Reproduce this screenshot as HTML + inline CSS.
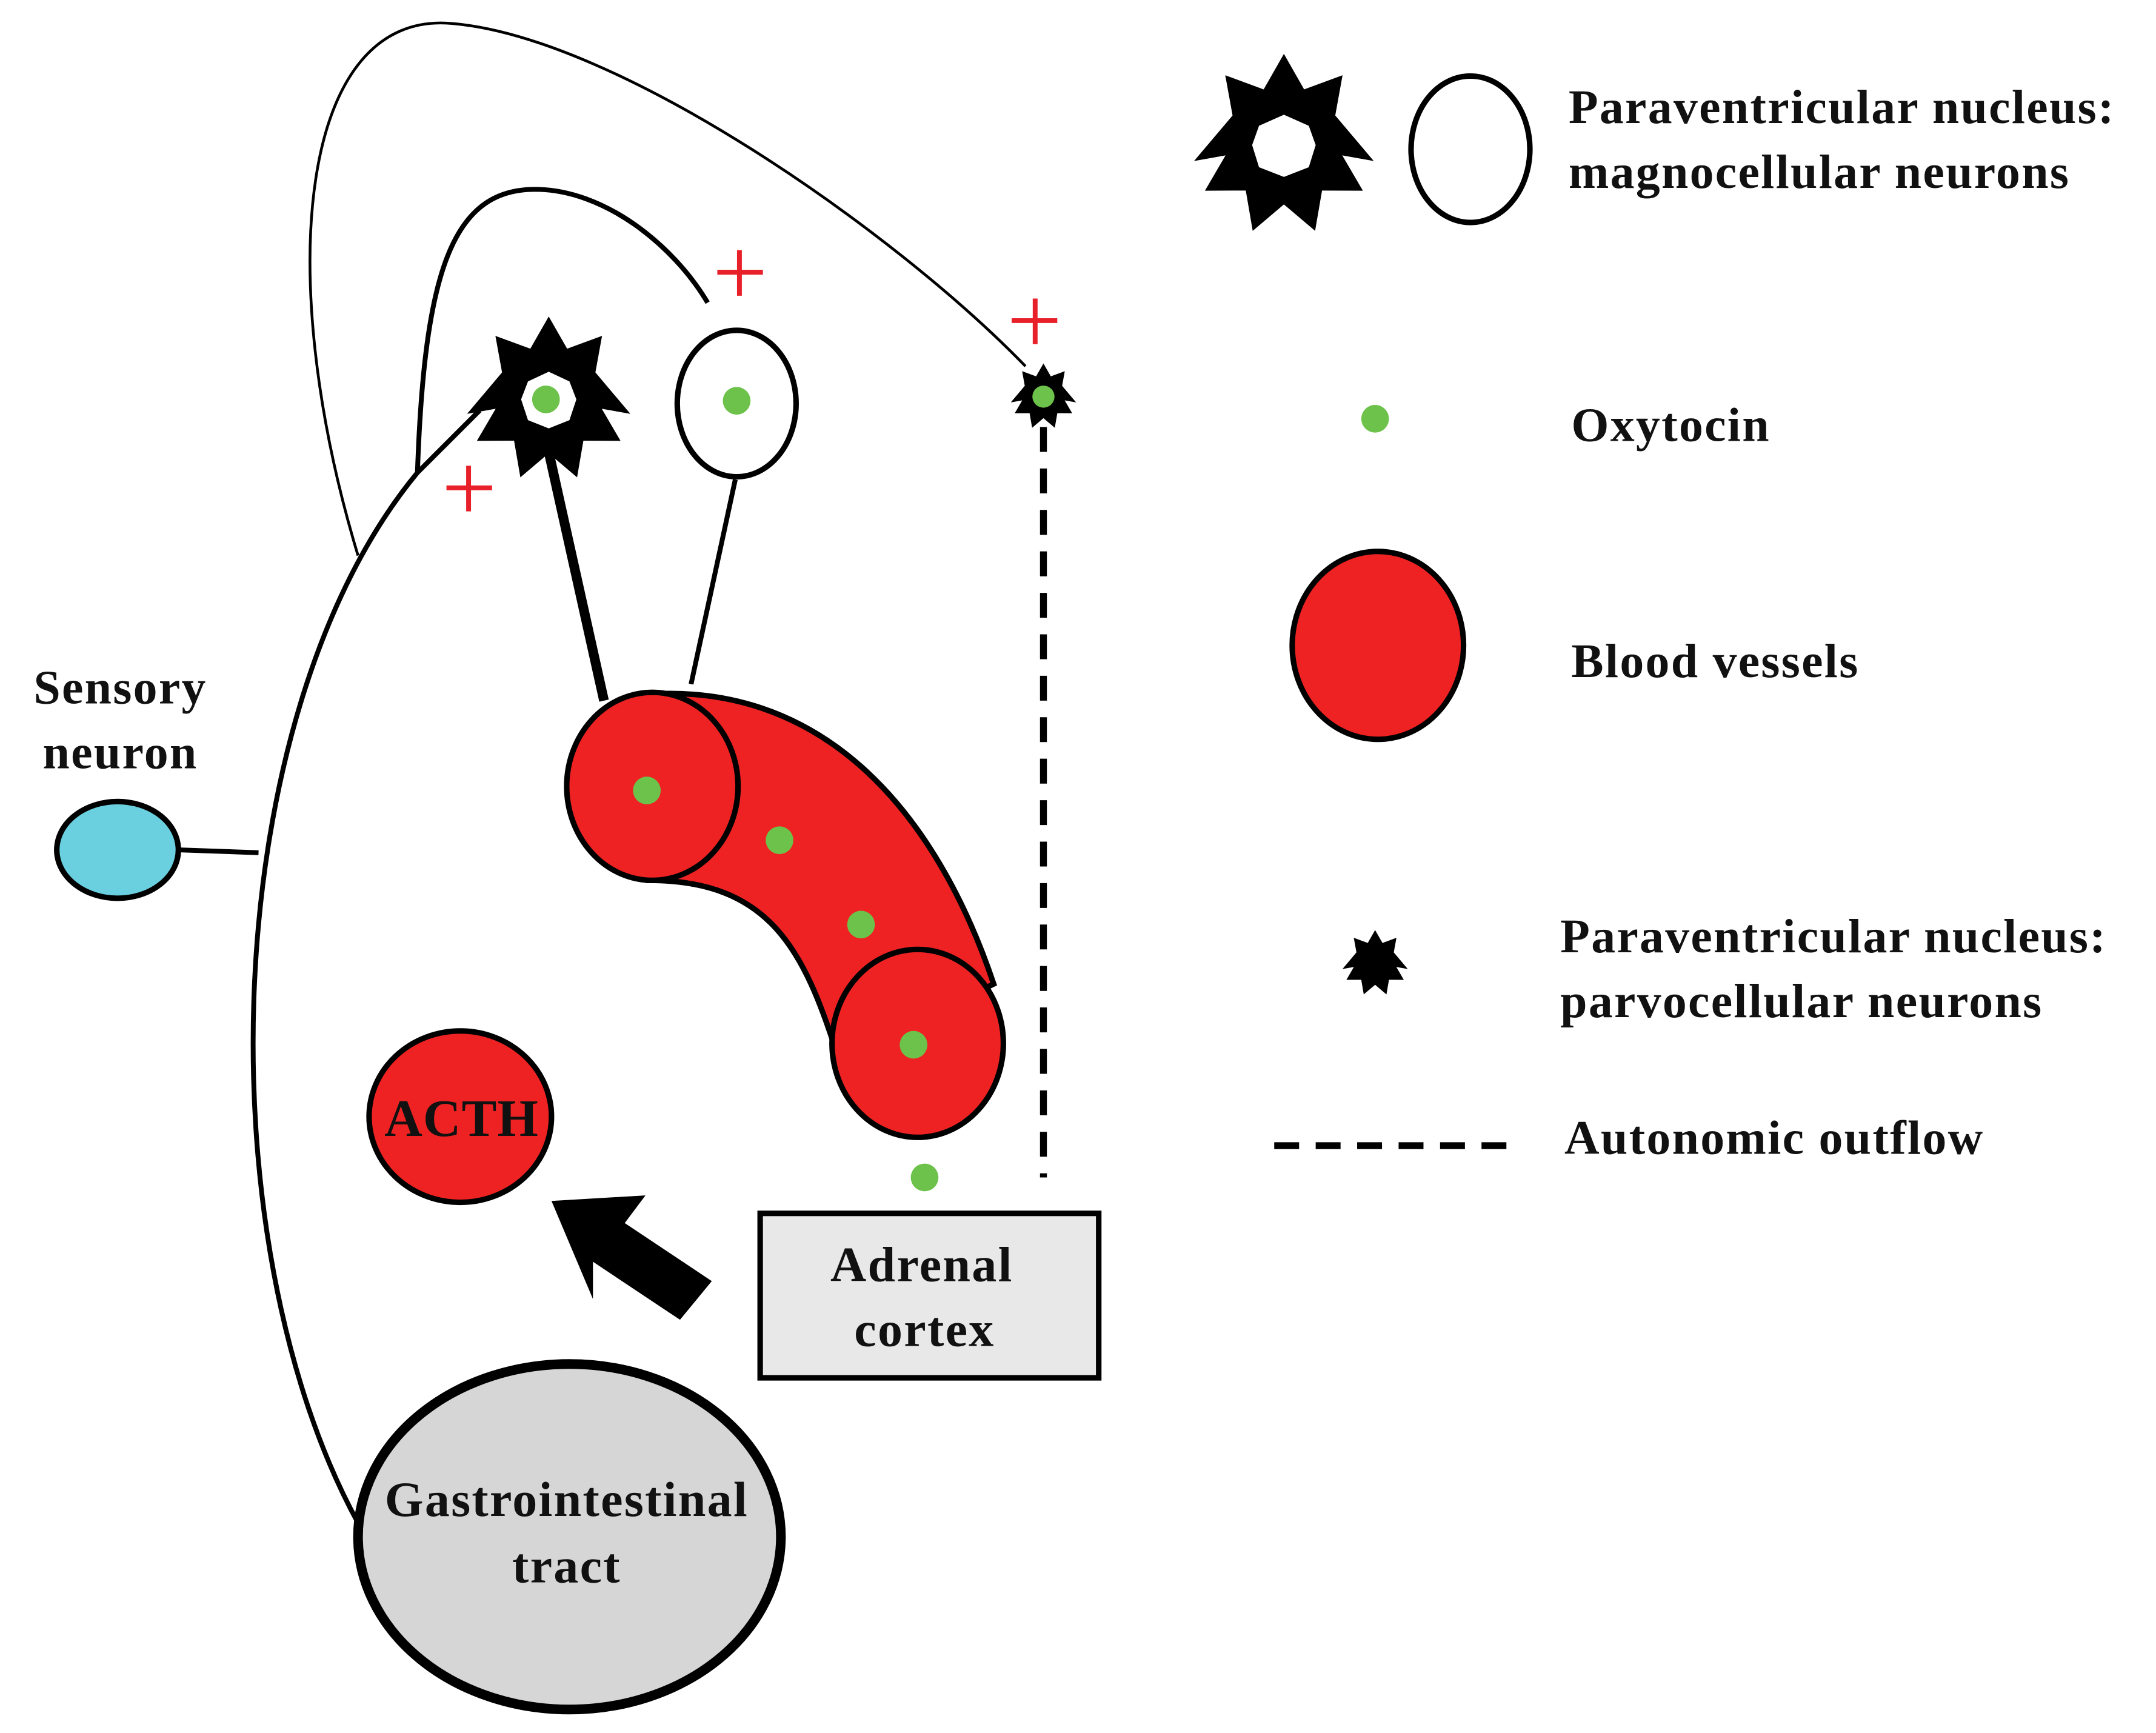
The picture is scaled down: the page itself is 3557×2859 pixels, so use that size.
<!DOCTYPE html>
<html><head><meta charset="utf-8"><style>
html,body{margin:0;padding:0;background:#fff;}
svg{display:block;}
text{font-family:"Liberation Serif",serif;font-weight:bold;fill:#111;letter-spacing:1px;}
</style></head><body>
<svg width="3557" height="2859" viewBox="0 0 1560 1254" xmlns="http://www.w3.org/2000/svg">
<defs>
<polygon id="st" points="0,-1 .222,-.611 .643,-.766 .563,-.325 .985,.174 .640,.113 .866,.5 .418,.498 .342,.94 0,.65 -.342,.94 -.418,.498 -.866,.5 -.640,.113 -.985,.174 -.563,-.325 -.643,-.766 -.222,-.611"/>
</defs>
<g transform="translate(-3,-3)">
<path d="M262,405 C200,200 220,10 330,20 C450,30 650,170 745,268" fill="none" stroke="#000" stroke-width="2"/>
<path d="M305,345 C310,200 330,140 390,140 C440,140 490,180 515,222" fill="none" stroke="#000" stroke-width="3.5"/>
<path d="M262,1105 C150,900 160,520 305,345 L350,300" fill="none" stroke="#000" stroke-width="3.5"/>
<line x1="133" y1="618" x2="190" y2="620" stroke="#000" stroke-width="3.5"/>
<line x1="400" y1="330" x2="440" y2="510" stroke="#000" stroke-width="7"/>
<line x1="535" y1="350" x2="503" y2="498" stroke="#000" stroke-width="3.5"/>
<line x1="758" y1="312" x2="758" y2="855" stroke="#000" stroke-width="5" stroke-dasharray="18,12"/>
<g stroke="#e8202a" stroke-width="3.5">
<line x1="522" y1="200" x2="555" y2="200"/><line x1="538" y1="184" x2="538" y2="217"/>
<line x1="735" y1="235" x2="768" y2="235"/><line x1="752" y1="219" x2="752" y2="252"/>
<line x1="326" y1="356" x2="359" y2="356"/><line x1="342" y1="340" x2="342" y2="373"/>
</g>
<use href="#st" transform="translate(400,292) scale(60)" fill="#000"/>
<polygon points="400,272 415,279 420,292 415,307 400,313 385,307 380,292 385,279" fill="#fff"/>
<circle cx="398" cy="292" r="10" fill="#6cc24a"/>
<ellipse cx="536" cy="295" rx="43" ry="53" fill="#fff" stroke="#000" stroke-width="4"/>
<circle cx="536" cy="293" r="10" fill="#6cc24a"/>
<use href="#st" transform="translate(758,290) scale(24)" fill="#000"/>
<circle cx="758" cy="290" r="8" fill="#6cc24a"/>
<ellipse cx="88" cy="618" rx="44" ry="35" fill="#6ad0e0" stroke="#000" stroke-width="4"/>
<text x="90" y="512" font-size="35" text-anchor="middle">Sensory</text>
<text x="90" y="559" font-size="35" text-anchor="middle">neuron</text>
<path d="M478,505 C600,500 680,590 722,715 L610,770 C585,690 560,640 472,640 Z" fill="#ee2222" stroke="#000" stroke-width="4"/>
<ellipse cx="475" cy="572" rx="62" ry="68" fill="#ee2222" stroke="#000" stroke-width="4"/>
<ellipse cx="667" cy="758" rx="62" ry="68" fill="#ee2222" stroke="#000" stroke-width="4"/>
<g fill="#6cc24a"><circle cx="471" cy="575" r="10"/><circle cx="567" cy="611" r="10"/><circle cx="626" cy="672" r="10"/><circle cx="664" cy="759" r="10"/><circle cx="672" cy="855" r="10"/></g>
<ellipse cx="336" cy="811" rx="66" ry="62" fill="#ee2222" stroke="#000" stroke-width="4"/>
<text x="337" y="825" font-size="38" text-anchor="middle" style="letter-spacing:0.5px">ACTH</text>
<polygon points="402,872 470,868 455,888 518,930 495,958 432,916 432,943" fill="#000"/>
<rect x="553" y="881" width="245" height="119" fill="#e8e8e8" stroke="#000" stroke-width="4"/>
<text x="670" y="930" font-size="36" text-anchor="middle">Adrenal</text>
<text x="672" y="977" font-size="36" text-anchor="middle">cortex</text>
<ellipse cx="415" cy="1115" rx="153" ry="125" fill="#d5d6d5" stroke="#000" stroke-width="7"/>
<text x="413" y="1100" font-size="36" text-anchor="middle">Gastrointestinal</text>
<text x="413" y="1148" font-size="36" text-anchor="middle">tract</text>
<use href="#st" transform="translate(932,108) scale(66)" fill="#000"/>
<polygon points="932,86 950,94 955,108 950,124 932,131 914,124 909,108 914,94" fill="#fff"/>
<ellipse cx="1067" cy="111" rx="43" ry="53" fill="#fff" stroke="#000" stroke-width="4"/>
<text x="1138" y="92" font-size="35">Paraventricular nucleus:</text>
<text x="1138" y="139" font-size="35">magnocellular neurons</text>
<circle cx="998" cy="306" r="10" fill="#6cc24a"/>
<text x="1140" y="322" font-size="35">Oxytocin</text>
<ellipse cx="1000" cy="470" rx="62" ry="68" fill="#ee2222" stroke="#000" stroke-width="4"/>
<text x="1140" y="493" font-size="35">Blood vessels</text>
<use href="#st" transform="translate(998,700) scale(24)" fill="#000"/>
<text x="1132" y="692" font-size="35">Paraventricular nucleus:</text>
<text x="1132" y="739" font-size="35">parvocellular neurons</text>
<line x1="925" y1="832" x2="1102" y2="832" stroke="#000" stroke-width="5" stroke-dasharray="18,12"/>
<text x="1135" y="838" font-size="35">Autonomic outflow</text>
</g>
</svg>
</body></html>
